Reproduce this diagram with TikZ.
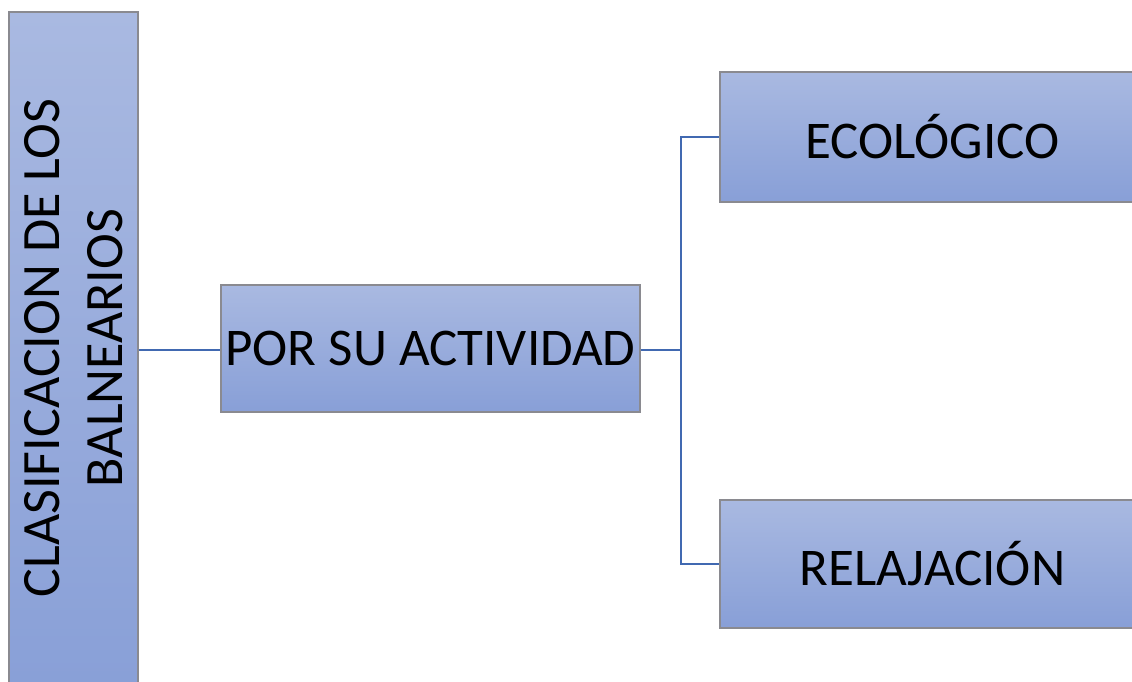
\documentclass[tikz,border=0pt]{standalone}
\usepackage{fontspec}
\setmainfont{Carlito}
\definecolor{boxtop}{HTML}{A9B9E1}
\definecolor{boxbot}{HTML}{889FD7}
\definecolor{boxline}{HTML}{8A8A90}
\definecolor{conn}{HTML}{4169B1}
\tikzset{
  box/.style={draw=boxline, line width=1.8pt, top color=boxtop, bottom color=boxbot, inner sep=0pt, font=\fontsize{53}{63}\selectfont},
  conline/.style={draw=conn, line width=2pt}
}
\begin{document}
\begin{tikzpicture}[x=1pt,y=1pt]
\useasboundingbox (0,0) rectangle (1132,682);
\clip (0,0) rectangle (1132,682);
\node[box, minimum width=129pt, minimum height=690pt] (cls) at (73.5,325) {};
\node[rotate=90, align=center, font=\fontsize{54}{63}\selectfont] (clstext) at (73.5,334) {CLASIFICACION DE LOS\\BALNEARIOS};
\node[box, minimum width=419pt, minimum height=127pt] (act) at (430.5,333.5) {POR SU ACTIVIDAD};
\node[box, minimum width=425pt, minimum height=130pt] (eco) at (932.5,545) {ECOLÓGICO};
\node[box, minimum width=425pt, minimum height=128pt] (rel) at (932.5,118) {RELAJACIÓN};
\coordinate (j) at (681,332);
\draw[conline] (cls.east |- j) -- (act.west |- j);
\draw[conline] (act.east |- j) -- (j);
\draw[conline] (j) |- (eco.west);
\draw[conline] (j) |- (rel.west);
\end{tikzpicture}
\end{document}
